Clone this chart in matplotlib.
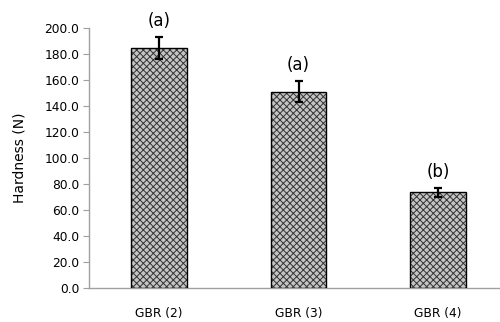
import matplotlib
matplotlib.use("Agg")
import matplotlib.pyplot as plt

# data
groups = ["GBR (2)", "GBR (3)", "GBR (4)"]
hardness = [184.5, 151.0, 73.6]
hardness_sd = [8.5, 8.0, 3.5]
letters = ["(a)", "(a)", "(b)"]

plt.rcParams['font.family'] = ['DejaVu Sans']
plt.rcParams['hatch.linewidth'] = 0.7

fig = plt.figure(figsize=(5.0, 3.22), dpi=100)
ax = fig.add_axes([0.178, 0.1056, 0.838, 0.8075])

x = range(len(groups))
# hatched fill (hatch colour follows edgecolor, so draw outline separately)
ax.bar(x, hardness, width=0.4, color="#c4c4c4", edgecolor="#333333",
       hatch="xxxxx", linewidth=0, zorder=2)
ax.bar(x, hardness, width=0.4, fill=False, edgecolor="black",
       linewidth=1.0, zorder=3)
ax.errorbar(x, hardness, yerr=hardness_sd, fmt="none", ecolor="black",
            elinewidth=1.6, capsize=3, capthick=1.6, zorder=4)

for i, (v, e, lab) in enumerate(zip(hardness, hardness_sd, letters)):
    ax.annotate(lab, xy=(i, v + e), xytext=(0, 11.5), textcoords="offset points",
                ha="center", va="center", fontsize=12, color="black")

ax.set_xlim(-0.5, 2.5)
ax.set_ylim(0, 200)
ax.set_yticks(range(0, 201, 20))
ax.set_yticklabels([f"{t:.1f}" for t in range(0, 201, 20)], fontsize=8.8)
ax.set_xticks(list(x))
ax.set_xticklabels(groups, fontsize=8.8)
ax.tick_params(axis="x", length=0, pad=13.5)
ax.tick_params(axis="y", length=4, color="#a0a0a0", direction="out", pad=3)
ax.set_ylabel("Hardness (N)", fontsize=10, labelpad=13)

for s in ["top", "right"]:
    ax.spines[s].set_visible(False)
for s in ["left", "bottom"]:
    ax.spines[s].set_color("#a0a0a0")
    ax.spines[s].set_linewidth(1.0)

fig.savefig("out.png", dpi=100)
